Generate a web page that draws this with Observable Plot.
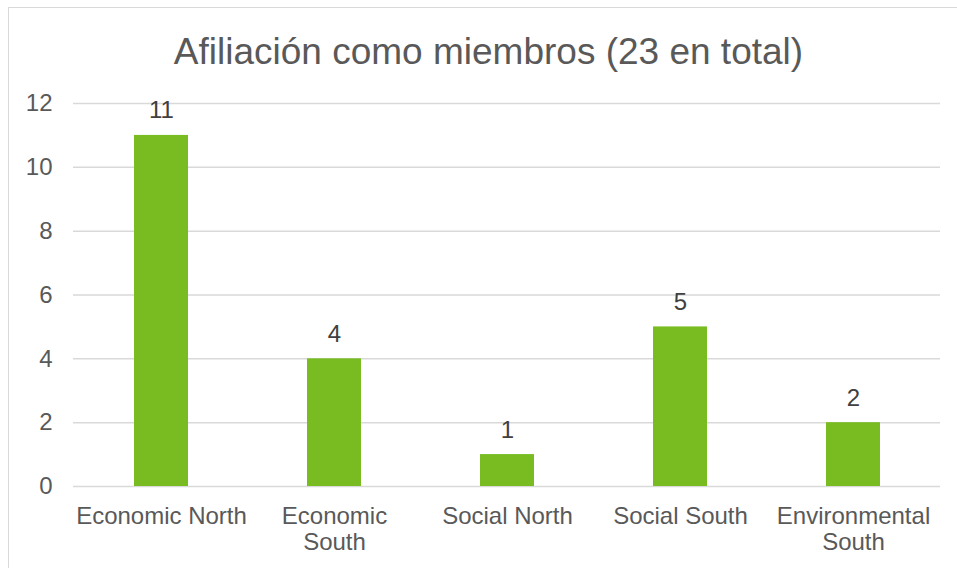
<!DOCTYPE html>
<html><head><meta charset="utf-8">
<script src="https://cdn.jsdelivr.net/npm/d3@7"></script>
<script src="https://cdn.jsdelivr.net/npm/@observablehq/plot@0.6"></script>
<style>
body{margin:0;background:#fff;}
#wrap{position:relative;width:957px;height:568px;overflow:hidden;font-family:"Liberation Sans",Arial,sans-serif;}
#frame{position:absolute;left:8px;top:7px;width:1000px;height:1000px;border-left:1px solid #d9d9d9;border-top:1px solid #d9d9d9;}
#title{position:relative;height:85px;box-sizing:border-box;padding-top:31px;padding-left:20px;text-align:center;font-size:37px;color:#595959;line-height:normal;white-space:nowrap;}
#chart{position:relative;}
</style></head><body>
<div id="wrap"><div id="frame"></div><div id="title">Afiliación como miembros (23 en total)</div><div id="chart"></div></div>
<script>
const categories = ["Economic North", "Economic South", "Social North", "Social South", "Environmental South"];
const values = [11, 4, 1, 5, 2];
const tickLabels = ["Economic North", "Economic\nSouth", "Social North", "Social South", "Environmental\nSouth"];
const yTicks = [0, 2, 4, 6, 8, 10, 12];

const data = categories.map((c, i) => ({category: c, value: values[i]}));

const plot = Plot.plot({
  width: 957, height: 483,
  marginTop: 18, marginBottom: 82, marginLeft: 73, marginRight: 17,
  style: {fontFamily: '"Liberation Sans", Arial, sans-serif', fontSize: "24px", color: "#595959", background: "transparent", overflow: "visible"},
  x: {domain: categories, paddingInner: 0.69, paddingOuter: 0.345, label: null},
  y: {domain: [0, 12], label: null},
  marks: [
    Plot.gridY(yTicks, {stroke: "#d9d9d9", strokeOpacity: 1, strokeWidth: 1.5}),
    Plot.barY(data, {x: "category", y: "value", fill: "#78bc22"}),
    Plot.text(data, {x: "category", y: "value", text: d => String(d.value), dy: -17, lineAnchor: "bottom", fill: "#404040", fontSize: 24}),
    Plot.axisY(yTicks, {tickSize: 0, tickPadding: 21, fontSize: 24, fill: "#595959", label: null}),
    Plot.axisX({tickSize: 0, tickPadding: 18, tickFormat: d => tickLabels[categories.indexOf(d)], lineHeight: 1.12, fontSize: 24, fill: "#595959", label: null})
  ]
});
document.getElementById("chart").appendChild(plot);
</script>
</body></html>
